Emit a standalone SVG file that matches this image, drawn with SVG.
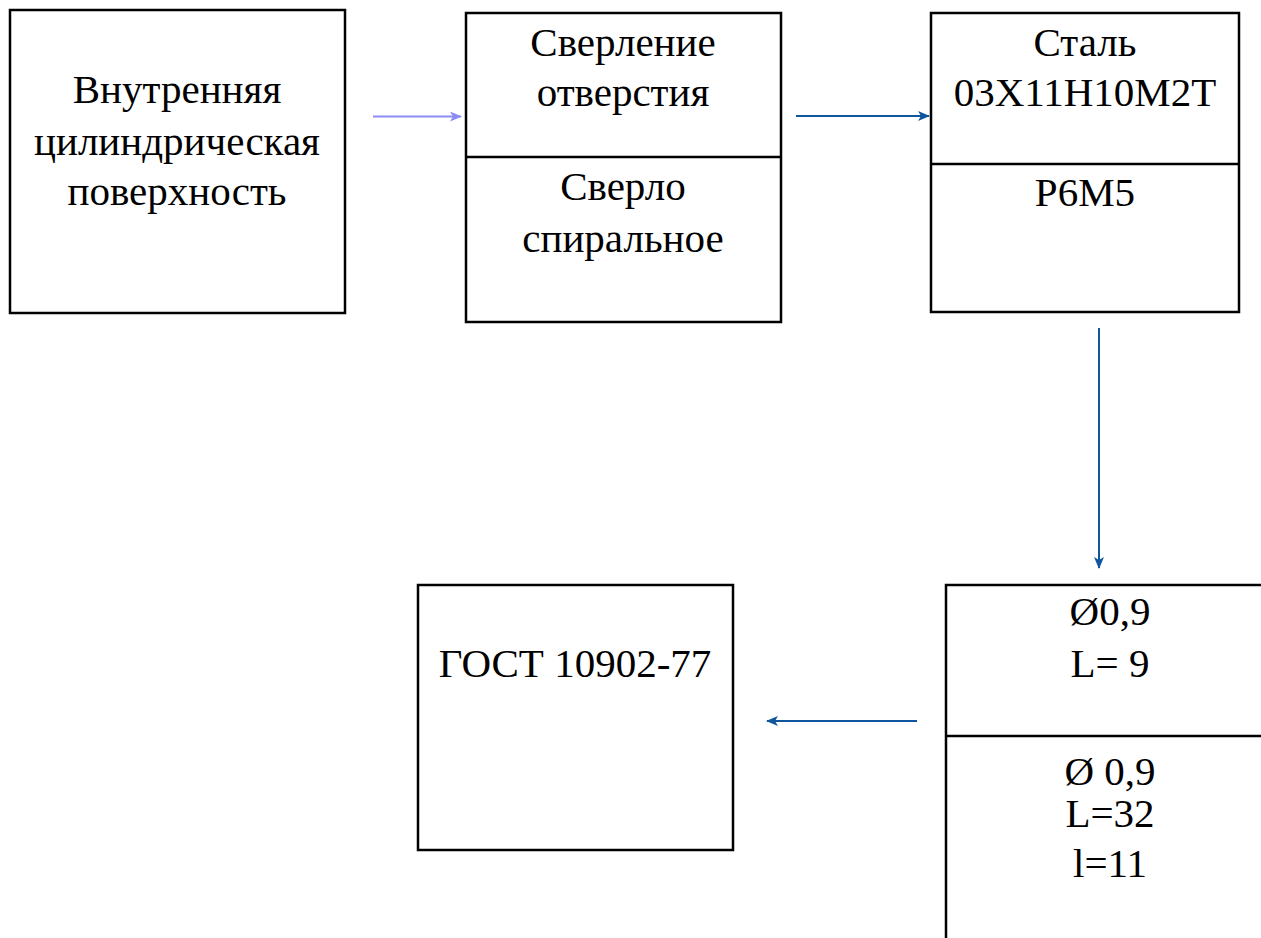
<svg xmlns="http://www.w3.org/2000/svg" width="1261" height="938" viewBox="0 0 1261 938">
<style>
.box{fill:#fff;stroke:#000;stroke-width:2.5}
.div{stroke:#000;stroke-width:2.5}
.t{font-family:'Liberation Serif','DejaVu Serif',serif;font-size:41px;fill:#000;text-anchor:middle}
.c1{stroke:#8c8cf5;stroke-width:2;fill:none}
.c2{stroke:#10569f;stroke-width:2;fill:none}
</style>
<defs>
<marker id="a1" markerWidth="12" markerHeight="10" refX="11" refY="5" orient="auto" markerUnits="userSpaceOnUse">
<path d="M0,0 L12,5 L0,10 L3,5 Z" fill="#8c8cf5"/>
</marker>
<marker id="a2" markerWidth="12" markerHeight="10" refX="11" refY="5" orient="auto" markerUnits="userSpaceOnUse">
<path d="M0,0 L12,5 L0,10 L3,5 Z" fill="#10569f"/>
</marker>
</defs>
<rect width="1261" height="938" fill="#fff"/>
<g id="connectors">
<line class="c1" x1="373" y1="116.5" x2="461" y2="116.5" marker-end="url(#a1)"/>
<line class="c2" x1="796" y1="116" x2="929" y2="116" marker-end="url(#a2)"/>
<line class="c2" x1="1099" y1="328" x2="1099" y2="568" marker-end="url(#a2)"/>
<line class="c2" x1="917" y1="721" x2="767" y2="721" marker-end="url(#a2)"/>
</g>
<g id="node1">
<rect class="box" x="10" y="10" width="335" height="303"/>
<text class="t" x="177" y="103">Внутренняя</text>
<text class="t" x="177" y="155">цилиндрическая</text>
<text class="t" x="177" y="205">поверхность</text>
</g>
<g id="node2">
<rect class="box" x="466" y="13" width="315" height="309"/>
<line class="div" x1="466" y1="157" x2="781" y2="157"/>
<text class="t" x="623" y="56">Сверление</text>
<text class="t" x="623" y="106">отверстия</text>
<text class="t" x="623" y="200">Сверло</text>
<text class="t" x="623" y="252">спиральное</text>
</g>
<g id="node3">
<rect class="box" x="931" y="13" width="308" height="299"/>
<line class="div" x1="931" y1="164" x2="1239" y2="164"/>
<text class="t" x="1085" y="56">Сталь</text>
<text class="t" x="1085" y="106">03Х11Н10М2Т</text>
<text class="t" x="1085" y="206">Р6М5</text>
</g>
<g id="node4">
<rect class="box" x="418" y="585" width="315" height="265"/>
<text class="t" x="575" y="677">ГОСТ 10902-77</text>
</g>
<g id="node5">
<rect class="box" x="946" y="585" width="330" height="370"/>
<line class="div" x1="946" y1="736" x2="1261" y2="736"/>
<text class="t" x="1110" y="625">Ø0,9</text>
<text class="t" x="1110" y="677">L= 9</text>
<text class="t" x="1110" y="785">Ø 0,9</text>
<text class="t" x="1110" y="827">L=32</text>
<text class="t" x="1110" y="877">l=11</text>
</g>
</svg>
